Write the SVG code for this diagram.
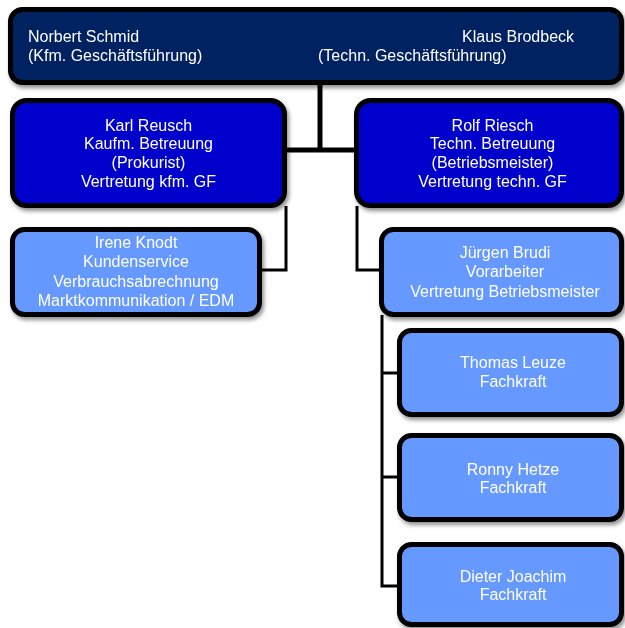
<svg xmlns="http://www.w3.org/2000/svg" width="625" height="628" viewBox="0 0 625 628">
<style>
.box{stroke:#000;stroke-width:5}
.navy{fill:#002060}
.blue{fill:#0000CC}
.light{fill:#6699FF}
text{font-family:"Liberation Sans",Arial,sans-serif;font-size:16px;fill:#fff}
.c{text-anchor:middle}
.conn{fill:none;stroke:#000;stroke-width:3}
.thick{fill:none;stroke:#000;stroke-width:5}
</style>
<defs>
<filter id="sh" x="-10%" y="-10%" width="130%" height="130%">
<feGaussianBlur in="SourceAlpha" stdDeviation="2"/>
<feOffset dx="2" dy="3" result="b"/>
<feComponentTransfer><feFuncA type="linear" slope="0.45"/></feComponentTransfer>
<feMerge><feMergeNode/><feMergeNode in="SourceGraphic"/></feMerge>
</filter>
</defs>
<rect width="625" height="628" fill="#fff"/>
<g id="connectors">
<path class="thick" d="M320 84 V150 M286 150 H357"/>
<path class="conn" d="M286 206 V270 H260"/>
<path class="conn" d="M357 206 V270 H381"/>
<path class="conn" d="M382 315 V586 H399 M382 373 H399 M382 477 H399"/>
</g>
<g id="gf" filter="url(#sh)">
<rect class="box navy" x="10.5" y="9.5" width="611" height="73" rx="12"/>
<text x="28" y="42">Norbert Schmid</text>
<text x="28" y="61">(Kfm. Geschäftsführung)</text>
<text x="462" y="42">Klaus Brodbeck</text>
<text x="318" y="61">(Techn. Geschäftsführung)</text>
</g>
<g id="reusch" filter="url(#sh)">
<rect class="box blue" x="12.5" y="100.5" width="272" height="105" rx="14"/>
<text class="c" x="148.5" y="130.5">Karl Reusch</text>
<text class="c" x="148.5" y="149">Kaufm. Betreuung</text>
<text class="c" x="148.5" y="167.5">(Prokurist)</text>
<text class="c" x="148.5" y="186.5">Vertretung kfm. GF</text>
</g>
<g id="riesch" filter="url(#sh)">
<rect class="box blue" x="356.5" y="100.5" width="265" height="105" rx="14"/>
<text class="c" x="492.5" y="130.5">Rolf Riesch</text>
<text class="c" x="492.5" y="149">Techn. Betreuung</text>
<text class="c" x="492.5" y="167.5">(Betriebsmeister)</text>
<text class="c" x="492.5" y="186.5">Vertretung techn. GF</text>
</g>
<g id="knodt" filter="url(#sh)">
<rect class="box light" x="12.5" y="229.5" width="247" height="85" rx="12"/>
<text class="c" x="136" y="248">Irene Knodt</text>
<text class="c" x="136" y="267">Kundenservice</text>
<text class="c" x="136" y="287">Verbrauchsabrechnung</text>
<text class="c" x="136" y="306">Marktkommunikation / EDM</text>
</g>
<g id="brudi" filter="url(#sh)">
<rect class="box light" x="381.5" y="229.5" width="240" height="85" rx="12"/>
<text class="c" x="505" y="258">Jürgen Brudi</text>
<text class="c" x="505" y="277">Vorarbeiter</text>
<text class="c" x="505" y="297">Vertretung Betriebsmeister</text>
</g>
<g id="leuze" filter="url(#sh)">
<rect class="box light" x="399.5" y="330.5" width="222" height="84" rx="12"/>
<text class="c" x="513" y="368">Thomas Leuze</text>
<text class="c" x="513" y="387">Fachkraft</text>
</g>
<g id="hetze" filter="url(#sh)">
<rect class="box light" x="399.5" y="435.5" width="222" height="84" rx="12"/>
<text class="c" x="513" y="475">Ronny Hetze</text>
<text class="c" x="513" y="493">Fachkraft</text>
</g>
<g id="joachim" filter="url(#sh)">
<rect class="box light" x="399.5" y="544.5" width="222" height="80" rx="12"/>
<text class="c" x="513" y="582">Dieter Joachim</text>
<text class="c" x="513" y="600">Fachkraft</text>
</g>
</svg>
